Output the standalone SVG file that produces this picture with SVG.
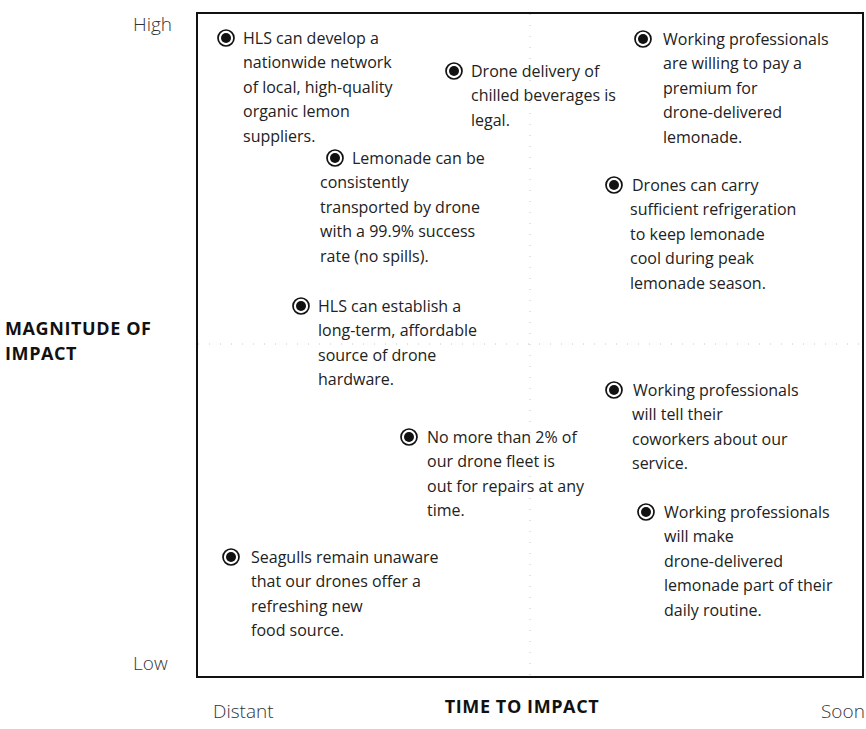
<svg xmlns="http://www.w3.org/2000/svg" width="866" height="729" viewBox="0 0 866 729">
  <style>
    .item { font-family: "Open Sans", Lato, "Liberation Sans", sans-serif; font-size: 16px; fill: #222; }
    .tick { font-family: "Open Sans", Lato, "Liberation Sans", sans-serif; font-size: 19px; font-weight: 300; fill: #333; }
    .axis { font-family: "Open Sans", Lato, "Liberation Sans", sans-serif; font-size: 18px; font-weight: 700; letter-spacing: 0.6px; fill: #111; }
    .frame { fill: none; stroke: #111; stroke-width: 2; }
    .guide { stroke: #c4c4c4; stroke-width: 1; stroke-dasharray: 1 10; fill: none; }
    .ring { fill: #fff; stroke: #111; stroke-width: 1.7; }
    .dot { fill: #111; }
  </style>
  <defs>
    <g id="bullet">
      <circle class="ring" cx="0" cy="0" r="8"/>
      <circle class="dot" cx="0" cy="0" r="5"/>
    </g>
  </defs>

  <rect width="866" height="729" fill="#fff"/>

  <!-- chart frame and quadrant guides -->
  <g id="connectors">
    <rect class="frame" x="197" y="13" width="666" height="664"/>
    <line class="guide" x1="198" y1="344" x2="862" y2="344"/>
    <line class="guide" x1="530" y1="14" x2="530" y2="676"/>
  </g>

  <!-- axis labels -->
  <g id="axes">
    <text class="tick" x="133" y="31">High</text>
    <text class="tick" x="133" y="670">Low</text>
    <text class="axis" x="5" y="335">MAGNITUDE OF</text>
    <text class="axis" x="5" y="360">IMPACT</text>
    <text class="axis" x="522" y="713" text-anchor="middle">TIME TO IMPACT</text>
    <text class="tick" x="213" y="718">Distant</text>
    <text class="tick" x="821" y="718">Soon</text>
  </g>

  <!-- assumptions -->
  <g id="n-suppliers">
    <use href="#bullet" x="226" y="38"/>
    <text class="item" x="243" y="43.5">HLS can develop a</text>
    <text class="item" x="243" y="68">nationwide network</text>
    <text class="item" x="243" y="92.5">of local, high-quality</text>
    <text class="item" x="243" y="117">organic lemon</text>
    <text class="item" x="243" y="141.5">suppliers.</text>
  </g>

  <g id="n-legal">
    <use href="#bullet" x="454" y="71"/>
    <text class="item" x="471" y="76.5">Drone delivery of</text>
    <text class="item" x="471" y="101">chilled beverages is</text>
    <text class="item" x="471" y="125.5">legal.</text>
  </g>

  <g id="n-premium">
    <use href="#bullet" x="643" y="39"/>
    <text class="item" x="663" y="44.5">Working professionals</text>
    <text class="item" x="663" y="69">are willing to pay a</text>
    <text class="item" x="663" y="93.5">premium for</text>
    <text class="item" x="663" y="118">drone-delivered</text>
    <text class="item" x="663" y="142.5">lemonade.</text>
  </g>

  <g id="n-transport">
    <use href="#bullet" x="335" y="158"/>
    <text class="item" x="352" y="163.5">Lemonade can be</text>
    <text class="item" x="320" y="188">consistently</text>
    <text class="item" x="320" y="212.5">transported by drone</text>
    <text class="item" x="320" y="237">with a 99.9% success</text>
    <text class="item" x="320" y="261.5">rate (no spills).</text>
  </g>

  <g id="n-refrigeration">
    <use href="#bullet" x="614" y="185"/>
    <text class="item" x="632" y="190.5">Drones can carry</text>
    <text class="item" x="630" y="215">sufficient refrigeration</text>
    <text class="item" x="630" y="239.5">to keep lemonade</text>
    <text class="item" x="630" y="264">cool during peak</text>
    <text class="item" x="630" y="288.5">lemonade season.</text>
  </g>

  <g id="n-hardware">
    <use href="#bullet" x="301" y="306"/>
    <text class="item" x="318" y="311.5">HLS can establish a</text>
    <text class="item" x="318" y="336">long-term, affordable</text>
    <text class="item" x="318" y="360.5">source of drone</text>
    <text class="item" x="318" y="385">hardware.</text>
  </g>

  <g id="n-coworkers">
    <use href="#bullet" x="614" y="390"/>
    <text class="item" x="633" y="395.5">Working professionals</text>
    <text class="item" x="632" y="420">will tell their</text>
    <text class="item" x="632" y="444.5">coworkers about our</text>
    <text class="item" x="632" y="469">service.</text>
  </g>

  <g id="n-repairs">
    <use href="#bullet" x="409" y="437"/>
    <text class="item" x="427" y="442.5">No more than 2% of</text>
    <text class="item" x="427" y="467">our drone fleet is</text>
    <text class="item" x="427" y="491.5">out for repairs at any</text>
    <text class="item" x="427" y="516">time.</text>
  </g>

  <g id="n-routine">
    <use href="#bullet" x="646" y="512"/>
    <text class="item" x="664" y="517.5">Working professionals</text>
    <text class="item" x="664" y="542">will make</text>
    <text class="item" x="664" y="566.5">drone-delivered</text>
    <text class="item" x="664" y="591">lemonade part of their</text>
    <text class="item" x="664" y="615.5">daily routine.</text>
  </g>

  <g id="n-seagulls">
    <use href="#bullet" x="231" y="557"/>
    <text class="item" x="251" y="562.5">Seagulls remain unaware</text>
    <text class="item" x="251" y="587">that our drones offer a</text>
    <text class="item" x="251" y="611.5">refreshing new</text>
    <text class="item" x="251" y="636">food source.</text>
  </g>
</svg>
